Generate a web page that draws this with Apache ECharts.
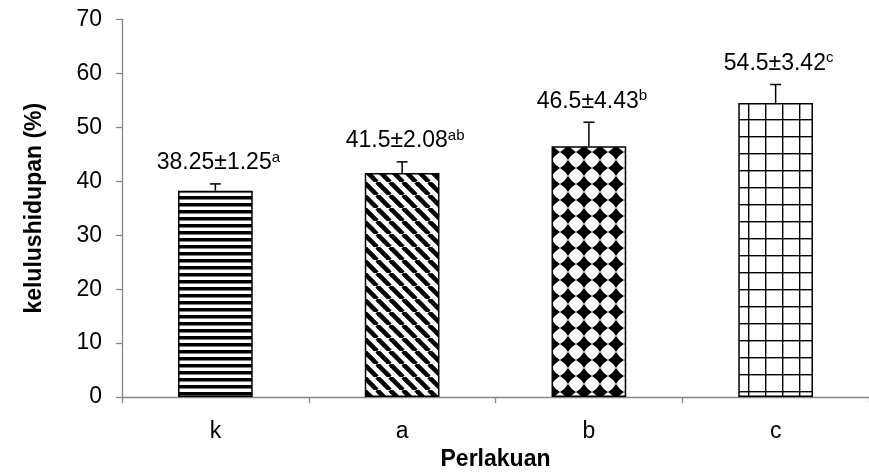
<!DOCTYPE html>
<html>
<head>
<meta charset="utf-8">
<script src="https://cdn.jsdelivr.net/npm/echarts@6/dist/echarts.min.js"></script>
<style>
html,body{margin:0;padding:0;background:#fff;}
#chart{width:869px;height:476px;}
</style>
</head>
<body>
<div id="chart"></div>
<script>
const categories = ['k', 'a', 'b', 'c'];
const means = [38.25, 41.5, 46.5, 54.5];
const sds = [1.25, 2.08, 4.43, 3.42];
const letters = ['a', 'ab', 'b', 'c'];
const yTicks = { min: 0, max: 70, interval: 10 };

const FONT = '"Liberation Sans", Arial, sans-serif';
const FS = 23;

function makeCanvas(w, h) {
  const c = document.createElement('canvas');
  c.width = w; c.height = h;
  const ctx = c.getContext('2d');
  ctx.fillStyle = '#fff';
  ctx.fillRect(0, 0, w, h);
  return [c, ctx];
}
function hStripes() {
  const [c, ctx] = makeCanvas(8, 7);
  ctx.fillStyle = '#000';
  ctx.fillRect(0, 0, 8, 3.5);
  return c;
}
function diagStripes() {
  const p = 13;
  const [c, ctx] = makeCanvas(p, p);
  ctx.strokeStyle = '#000';
  ctx.lineWidth = p * 0.7071 / 2;
  for (let x0 = -2 * p; x0 <= 2 * p; x0 += p) {
    ctx.beginPath();
    ctx.moveTo(x0, 0);
    ctx.lineTo(x0 + p, p);
    ctx.stroke();
  }
  return c;
}
function diamonds() {
  const s = 16, h = s / 2;
  const [c, ctx] = makeCanvas(s, s);
  ctx.fillStyle = '#000';
  const k = 0.25;
  ctx.beginPath();
  ctx.moveTo(h, 0);
  ctx.quadraticCurveTo(h + h * k + 1, h - h * k - 1, s, h);
  ctx.quadraticCurveTo(h + h * k + 1, h + h * k + 1, h, s);
  ctx.quadraticCurveTo(h - h * k - 1, h + h * k + 1, 0, h);
  ctx.quadraticCurveTo(h - h * k - 1, h - h * k - 1, h, 0);
  ctx.closePath();
  ctx.fill();
  return c;
}
function gridPat() {
  const [c, ctx] = makeCanvas(17, 17);
  ctx.fillStyle = '#000';
  ctx.fillRect(0, 0, 1.4, 17);
  ctx.fillRect(0, 0, 17, 1.4);
  return c;
}

const patterns = [hStripes(), diagStripes(), diamonds(), gridPat()];

const barData = means.map((v, i) => ({
  value: v,
  itemStyle: { color: { image: patterns[i], repeat: 'repeat' } }
}));
const errData = means.map((v, i) => [i, v, sds[i], letters[i]]);

const chart = echarts.init(document.getElementById('chart'), null, { renderer: 'canvas' });
chart.setOption({
  animation: false,
  backgroundColor: '#fff',
  grid: { left: 122, right: -9, top: 19.3, bottom: 72.7, containLabel: false },
  xAxis: {
    type: 'category',
    data: categories,
    name: 'Perlakuan',
    nameLocation: 'middle',
    nameGap: 49,
    nameTextStyle: { fontFamily: FONT, fontSize: FS, fontWeight: 'bold', color: '#000' },
    axisLine: { lineStyle: { color: '#868686', width: 1.3 } },
    axisTick: { show: true, length: 6, lineStyle: { color: '#868686', width: 1.3 } },
    axisLabel: { fontFamily: FONT, fontSize: FS, color: '#000', margin: 23 }
  },
  yAxis: {
    type: 'value',
    min: yTicks.min, max: yTicks.max, interval: yTicks.interval,
    name: 'kelulushidupan (%)',
    nameLocation: 'middle',
    nameRotate: 90,
    nameGap: 76,
    nameTextStyle: { fontFamily: FONT, fontSize: FS, fontWeight: 'bold', color: '#000' },
    axisLine: { show: true, lineStyle: { color: '#868686', width: 1.3 } },
    axisTick: { show: true, length: 6, lineStyle: { color: '#868686', width: 1.3 } },
    axisLabel: { fontFamily: FONT, fontSize: FS, color: '#000', margin: 20 },
    splitLine: { show: false }
  },
  series: [
    {
      type: 'bar',
      data: barData,
      barWidth: '40%',
      itemStyle: { borderColor: '#000', borderWidth: 1.5 },
      z: 2
    },
    {
      type: 'custom',
      data: errData,
      encode: { x: 0, y: 1 },
      z: 3,
      renderItem: function (params, api) {
        const i = api.value(0), m = api.value(1), sd = api.value(2);
        const letter = letters[params.dataIndex];
        const base = api.coord([i, m]);
        const top = api.coord([i, m + sd]);
        const half = 5.5;
        return {
          type: 'group',
          children: [
            { type: 'line', shape: { x1: base[0], y1: base[1], x2: top[0], y2: top[1] }, style: { stroke: '#000', lineWidth: 1.5 } },
            { type: 'line', shape: { x1: top[0] - half, y1: top[1], x2: top[0] + half, y2: top[1] }, style: { stroke: '#000', lineWidth: 1.5 } },
            {
              type: 'text',
              x: top[0] + 3,
              y: top[1] - 7,
              style: {
                text: '{n|' + m + '±' + sd + '}{s|' + letter + '}',
                align: 'center',
                verticalAlign: 'bottom',
                rich: {
                  n: { fontFamily: FONT, fontSize: FS, lineHeight: 28, fill: '#000', color: '#000' },
                  s: { fontFamily: FONT, fontSize: 15, lineHeight: 28, verticalAlign: 'top', fill: '#000', color: '#000', padding: [1, 0, 0, 0] }
                }
              }
            }
          ]
        };
      }
    }
  ]
});
</script>
</body>
</html>
